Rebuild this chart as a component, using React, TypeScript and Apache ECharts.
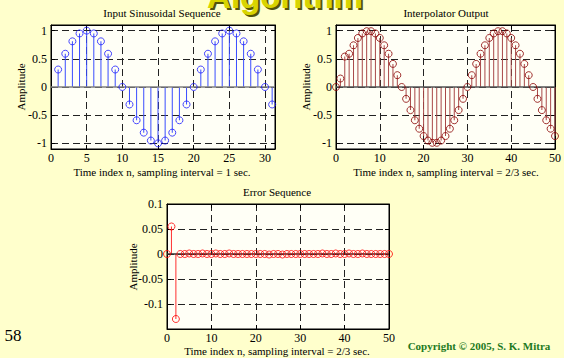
import React, { useEffect, useRef } from "react";
import * as echarts from "echarts";

// ---- Data ----
const inputN = [1, 2, 3, 4, 5, 6, 7, 8, 9, 10, 11, 12, 13, 14, 15, 16, 17, 18, 19, 20, 21, 22, 23, 24, 25, 26, 27, 28, 29, 30, 31];
const inputValues = [0.31, 0.59, 0.81, 0.95, 1, 0.95, 0.81, 0.59, 0.31, 0, -0.31, -0.59, -0.81, -0.95, -1, -0.95, -0.81, -0.59, -0.31, 0, 0.31, 0.59, 0.81, 0.95, 1, 0.95, 0.81, 0.59, 0.31, 0, -0.31];

const interpN = [0, 1, 2, 3, 4, 5, 6, 7, 8, 9, 10, 11, 12, 13, 14, 15, 16, 17, 18, 19, 20, 21, 22, 23, 24, 25, 26, 27, 28, 29, 30, 31, 32, 33, 34, 35, 36, 37, 38, 39, 40, 41, 42, 43, 44, 45, 46, 47, 48, 49, 50];
const interpValues = [0, 0.15, 0.54, 0.59, 0.74, 0.87, 0.95, 0.99, 0.99, 0.95, 0.87, 0.74, 0.59, 0.41, 0.21, 0, -0.21, -0.41, -0.59, -0.74, -0.87, -0.95, -0.99, -0.99, -0.95, -0.87, -0.74, -0.59, -0.41, -0.21, 0, 0.21, 0.41, 0.59, 0.74, 0.87, 0.95, 0.99, 0.99, 0.95, 0.87, 0.74, 0.59, 0.41, 0.21, 0, -0.21, -0.41, -0.59, -0.74, -0.87];

const errorN = interpN;
const errorValues = [0, 0.055, -0.13, 0, 0, 0.001, 0, 0, 0.001, 0, 0, 0.001, 0, 0, 0.001, 0, 0, 0, 0, 0, 0, 0, 0, -0.001, 0, 0, -0.001, 0, 0, 0, 0, 0, 0, 0, 0, 0.001, 0, 0, 0.001, 0, 0, 0.001, 0, 0, 0.001, 0, 0, 0, 0, 0, 0];

const ampTicks = [-1, -0.5, 0, 0.5, 1];
const inputXTicks = [0, 5, 10, 15, 20, 25, 30];
const fiftyXTicks = [0, 10, 20, 30, 40, 50];
const errorYTicks = [-0.1, -0.05, 0, 0.05, 0.1];

const titles = ["Input Sinusoidal Sequence", "Interpolator Output", "Error Sequence"];
const xNames = [
  "Time index n, sampling interval = 1 sec.",
  "Time index n, sampling interval = 2/3 sec.",
  "Time index n, sampling interval = 2/3 sec.",
];
const yName = "Amplitude";

const SERIF = "'Liberation Serif', 'Times New Roman', serif";
const SANS = "'Liberation Sans', Arial, sans-serif";
const BG = "#ffffcc";

function pairs(xs: number[], ys: number[]) {
  return xs.map((x, i) => [x, ys[i]]);
}

export default function App() {
  const ref = useRef<HTMLDivElement>(null);

  useEffect(() => {
    if (!ref.current) return;
    const chart = echarts.init(ref.current, null, { renderer: "svg", width: 564, height: 358 });

    const grids = [
      { left: 51, top: 25, width: 224, height: 124 },
      { left: 336, top: 25, width: 223, height: 124 },
      { left: 167, top: 204, width: 222, height: 125 },
    ].map((g) => ({ ...g, show: true, backgroundColor: "#fffff6", borderColor: "#000", borderWidth: 1 }));

    const xDefs = [
      { min: 0, max: 31.4, ticks: inputXTicks },
      { min: 0, max: 50, ticks: fiftyXTicks },
      { min: 0, max: 50, ticks: fiftyXTicks },
    ];
    const yDefs = [
      { min: -1.1, max: 1.1, ticks: ampTicks },
      { min: -1.1, max: 1.1, ticks: ampTicks },
      { min: -0.15, max: 0.1, ticks: errorYTicks },
    ];

    const dash = { color: "#222", type: [7, 4] as any, width: 1 };

    const xAxis: any[] = [];
    const yAxis: any[] = [];
    xDefs.forEach((d, i) => {
      xAxis.push({
        type: "value",
        gridIndex: i,
        min: d.min,
        max: d.max,
        position: "bottom",
        axisLine: { show: true, onZero: false, lineStyle: { color: "#000" } },
        axisTick: { show: true, inside: true, length: 4, customValues: d.ticks, lineStyle: { color: "#000" } },
        axisLabel: { show: true, customValues: d.ticks, margin: 3, fontFamily: SERIF, fontSize: 12, color: "#000" },
        splitLine: { show: true, lineStyle: dash },
      });
      xAxis.push({
        type: "value",
        gridIndex: i,
        min: d.min,
        max: d.max,
        position: "top",
        axisLine: { show: true, onZero: false, lineStyle: { color: "#000" } },
        axisTick: { show: true, inside: true, length: 4, customValues: d.ticks, lineStyle: { color: "#000" } },
        axisLabel: { show: false },
        splitLine: { show: false },
      });
    });
    yDefs.forEach((d, i) => {
      yAxis.push({
        type: "value",
        gridIndex: i,
        min: d.min,
        max: d.max,
        position: "left",
        axisLine: { show: true, onZero: false, lineStyle: { color: "#000" } },
        axisTick: { show: true, inside: true, length: 4, customValues: d.ticks, lineStyle: { color: "#000" } },
        axisLabel: { show: true, customValues: d.ticks, margin: 4, fontFamily: SERIF, fontSize: 12, color: "#000" },
        splitLine: { show: true, lineStyle: dash },
      });
      yAxis.push({
        type: "value",
        gridIndex: i,
        min: d.min,
        max: d.max,
        position: "right",
        axisLine: { show: true, onZero: false, lineStyle: { color: "#000" } },
        axisTick: { show: true, inside: true, length: 4, customValues: d.ticks, lineStyle: { color: "#000" } },
        axisLabel: { show: false },
        splitLine: { show: false },
      });
    });

    const stemSets = [
      { data: pairs(inputN, inputValues), stem: "#3a4dff", mark: "#1a1aff", base: "#808080" },
      { data: pairs(interpN, interpValues), stem: "#a84848", mark: "#8a0000", base: "#555555" },
      { data: pairs(errorN, errorValues), stem: "#ff3030", mark: "#ff0000", base: "#333333" },
    ];

    const series: any[] = [];
    stemSets.forEach((s, i) => {
      series.push({
        type: "bar",
        xAxisIndex: i * 2,
        yAxisIndex: i * 2,
        data: s.data,
        barWidth: 1,
        itemStyle: { color: s.stem },
        silent: true,
        markLine: {
          silent: true,
          symbol: "none",
          label: { show: false },
          lineStyle: { color: s.base, type: "solid", width: 1.5 },
          data: [{ yAxis: 0 }],
        },
      });
      series.push({
        type: "scatter",
        xAxisIndex: i * 2,
        yAxisIndex: i * 2,
        data: s.data,
        symbol: "circle",
        symbolSize: 7,
        itemStyle: { color: "rgba(0,0,0,0)", borderColor: s.mark, borderWidth: 1 },
        silent: true,
        z: 5,
      });
    });

    const txt = (text: string, x: number, y: number, extra: any = {}, style: any = {}) => ({
      type: "text",
      x,
      y,
      ...extra,
      style: {
        text,
        align: "center",
        verticalAlign: "middle",
        fontFamily: SERIF,
        fontSize: 11,
        fill: "#000",
        ...style,
      },
    });

    const graphic: any[] = [
      txt("Algorithm", 287, -2, {}, { fontFamily: SANS, fontWeight: "bold", fontSize: 33, fill: "#55550a" }),
      txt("Algorithm", 285, -4, {}, { fontFamily: SANS, fontWeight: "bold", fontSize: 33, fill: "#d8d400" }),
      txt(titles[0], 162, 13),
      txt(titles[1], 446, 13),
      txt(titles[2], 277, 192),
      txt(xNames[0], 162, 172),
      txt(xNames[1], 446, 172),
      txt(xNames[2], 277, 351),
      txt(yName, 21, 87, { rotation: Math.PI / 2 }),
      txt(yName, 306, 87, { rotation: Math.PI / 2 }),
      txt(yName, 133, 267, { rotation: Math.PI / 2 }),
      txt("58", 13, 335, {}, { fontSize: 17 }),
      txt("Copyright © 2005, S. K. Mitra", 479, 346, {}, { fontSize: 11, fontWeight: "bold", fill: "#1e7a1e" }),
    ];

    chart.setOption({
      animation: false,
      backgroundColor: BG,
      grid: grids,
      xAxis,
      yAxis,
      series,
      graphic,
    });

    return () => chart.dispose();
  }, []);

  return (
    <div style={{ position: "fixed", left: 0, top: 0, width: 564, height: 358, background: BG }}>
      <div ref={ref} style={{ width: 564, height: 358 }} />
    </div>
  );
}
